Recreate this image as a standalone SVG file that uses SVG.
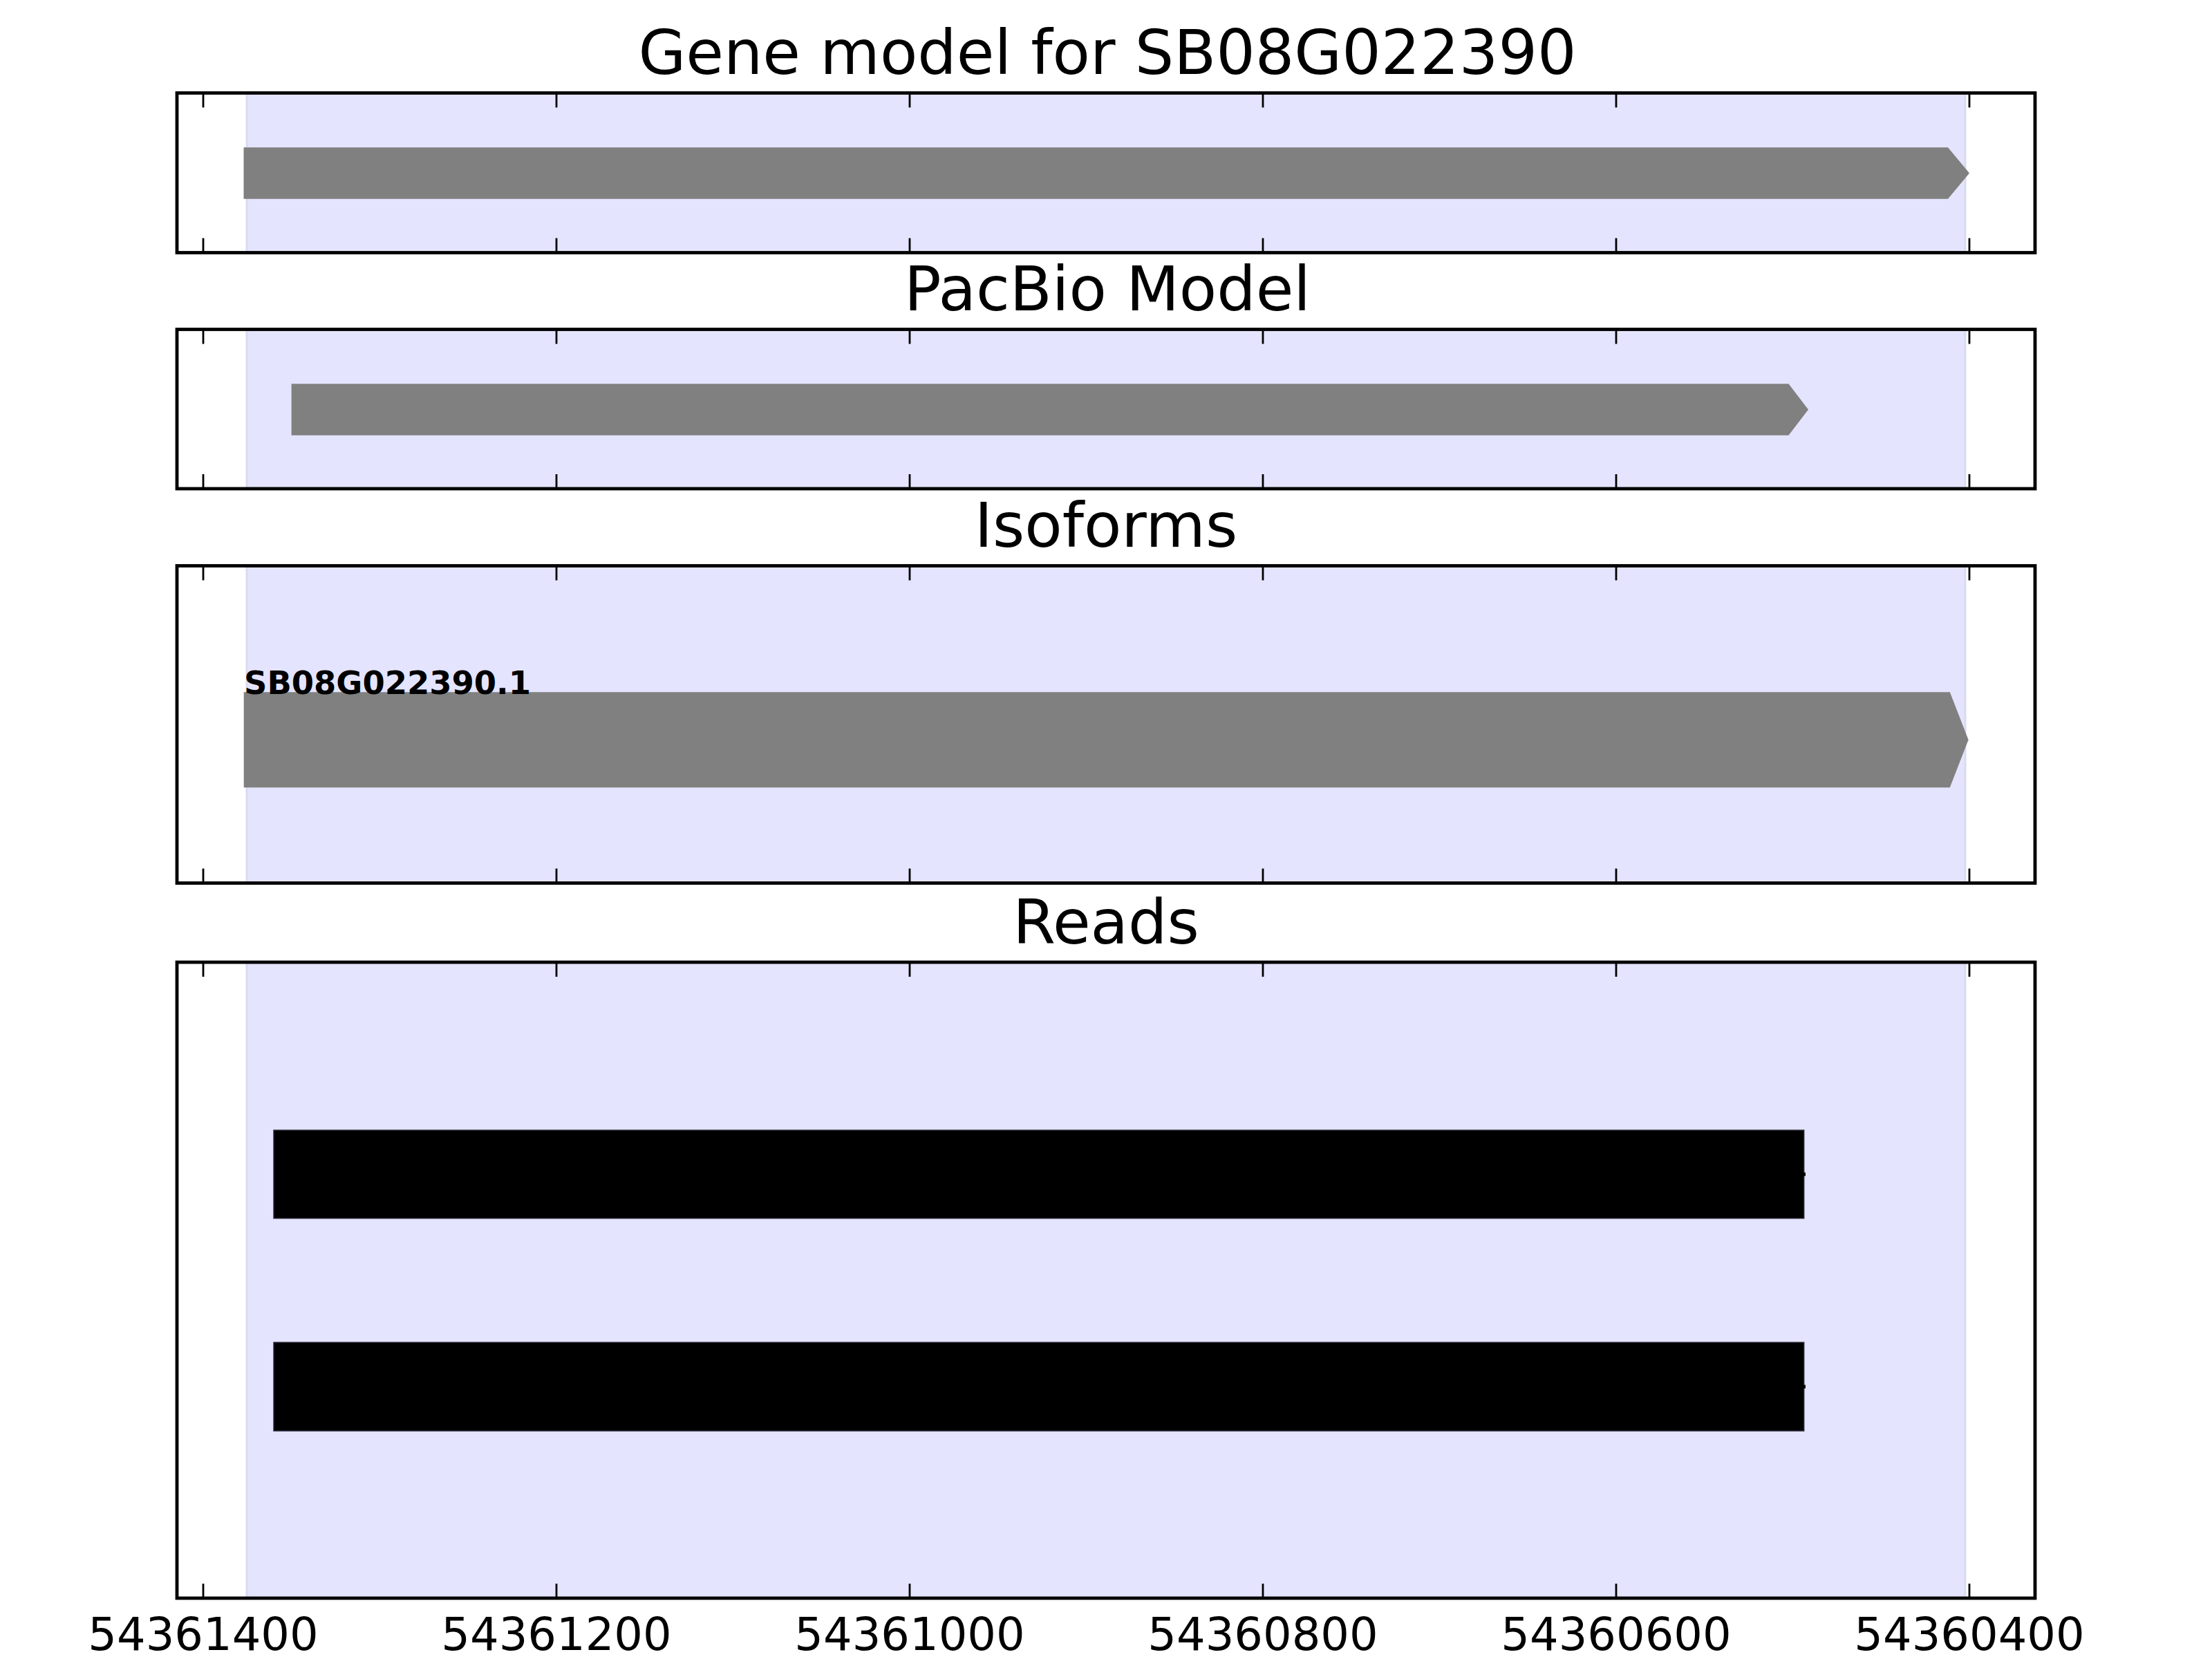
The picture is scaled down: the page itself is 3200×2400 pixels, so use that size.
<svg xmlns="http://www.w3.org/2000/svg" width="3200" height="2400" viewBox="0 0 3200 2400">
<style>
.title{font-family:"DejaVu Sans","Liberation Sans",sans-serif;font-size:88.9px;text-anchor:middle;fill:#000}
.ticklab{font-family:"DejaVu Sans","Liberation Sans",sans-serif;font-size:65.5px;text-anchor:middle;fill:#000}
.iso{font-family:"DejaVu Sans","Liberation Sans",sans-serif;font-size:46.4px;font-weight:bold;fill:#000}
.frame{fill:none;stroke:#000;stroke-width:4.8}
.tick{fill:none;stroke:#000;stroke-width:2.8}
.shade{fill:#e4e4fe;stroke:#dadaf0;stroke-width:3}
.gene{fill:#808080}
.read{fill:#000;stroke:#2a2a3a;stroke-width:1.5}
</style>
<rect x="0" y="0" width="3200" height="2400" fill="#fff"/>

<g id="panel-gene-model">
<text class="title" x="1602" y="107">Gene model for SB08G022390</text>
<rect class="shade" x="357" y="134.5" width="2486" height="231"/>
<polygon class="gene" points="352.5,213.3 2818,213.3 2849,250.5 2818,287.7 352.5,287.7"/>
<path class="tick" d="M294,134.5V155.5M805,134.5V155.5M1316,134.5V155.5M1827,134.5V155.5M2338,134.5V155.5M2849,134.5V155.5M294,365.5V344.5M805,365.5V344.5M1316,365.5V344.5M1827,365.5V344.5M2338,365.5V344.5M2849,365.5V344.5"/>
<rect class="frame" x="256" y="134.5" width="2688" height="231"/>
</g>

<g id="panel-pacbio">
<text class="title" x="1602" y="449">PacBio Model</text>
<rect class="shade" x="357" y="476.5" width="2486" height="230.5"/>
<polygon class="gene" points="421.6,555.2 2587.5,555.2 2616,592.4 2587.5,629.7 421.6,629.7"/>
<path class="tick" d="M294,476.5V497.5M805,476.5V497.5M1316,476.5V497.5M1827,476.5V497.5M2338,476.5V497.5M2849,476.5V497.5M294,707V686M805,707V686M1316,707V686M1827,707V686M2338,707V686M2849,707V686"/>
<rect class="frame" x="256" y="476.5" width="2688" height="230.5"/>
</g>

<g id="panel-isoforms">
<text class="title" x="1600" y="791">Isoforms</text>
<rect class="shade" x="357" y="818.5" width="2486" height="459"/>
<polygon class="gene" points="352.7,1001.2 2820.8,1001.2 2847.6,1070.2 2820.8,1139.3 352.7,1139.3"/>
<text class="iso" x="353" y="1004">SB08G022390.1</text>
<path class="tick" d="M294,818.5V839.5M805,818.5V839.5M1316,818.5V839.5M1827,818.5V839.5M2338,818.5V839.5M2849,818.5V839.5M294,1277.5V1256.5M805,1277.5V1256.5M1316,1277.5V1256.5M1827,1277.5V1256.5M2338,1277.5V1256.5M2849,1277.5V1256.5"/>
<rect class="frame" x="256" y="818.5" width="2688" height="459"/>
</g>

<g id="panel-reads">
<text class="title" x="1600" y="1364.5">Reads</text>
<rect class="shade" x="357" y="1392" width="2486" height="920"/>
<rect class="read" x="396" y="1635" width="2213.7" height="127.5"/>
<rect class="read" x="396" y="1942" width="2213.7" height="128"/>
<path d="M2607,1698.8H2612M2607,2006H2612" stroke="#000" stroke-width="5" fill="none"/>
<path class="tick" d="M294,1392V1413M805,1392V1413M1316,1392V1413M1827,1392V1413M2338,1392V1413M2849,1392V1413M294,2312V2291M805,2312V2291M1316,2312V2291M1827,2312V2291M2338,2312V2291M2849,2312V2291"/>
<rect class="frame" x="256" y="1392" width="2688" height="920"/>
<g id="x-axis-labels">
<text class="ticklab" x="294" y="2387">54361400</text>
<text class="ticklab" x="805" y="2387">54361200</text>
<text class="ticklab" x="1316" y="2387">54361000</text>
<text class="ticklab" x="1827" y="2387">54360800</text>
<text class="ticklab" x="2338" y="2387">54360600</text>
<text class="ticklab" x="2849" y="2387">54360400</text>
</g>
</g>
</svg>
